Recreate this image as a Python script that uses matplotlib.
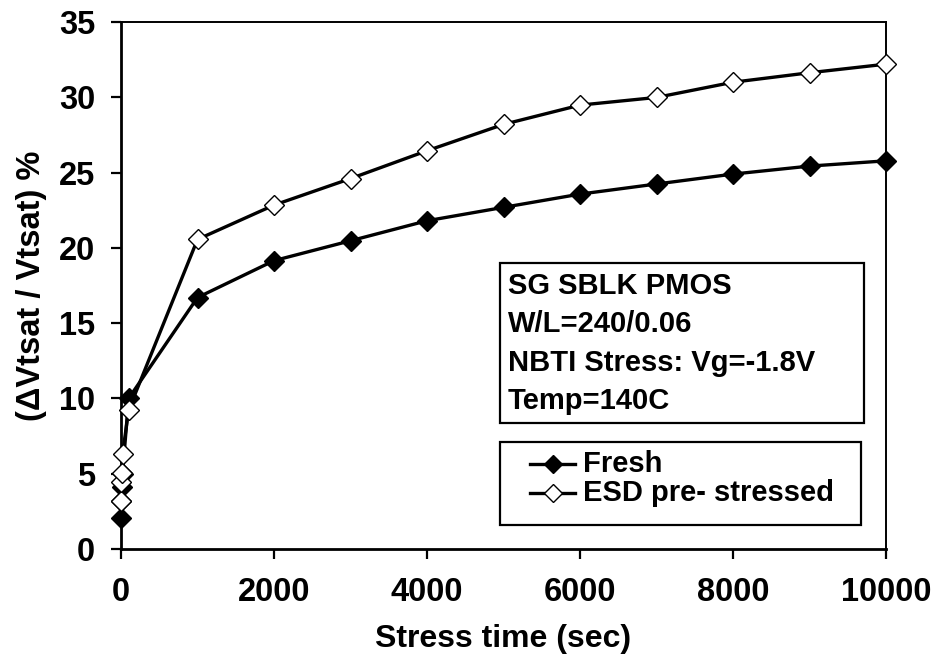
import matplotlib
matplotlib.use("Agg")
import matplotlib.pyplot as plt
from matplotlib.patches import Rectangle

plt.rcParams['font.family'] = ['Liberation Sans', 'DejaVu Sans']
plt.rcParams['font.weight'] = 'bold'

# stress time (sec)
stress_time = [1, 5, 10, 20, 100, 1000, 2000, 3000, 4000, 5000,
               6000, 7000, 8000, 9000, 10000]
fresh = [2.04, 3.2, 4.1, 5.0, 10.0, 16.7, 19.15, 20.47, 21.8, 22.69,
         23.57, 24.24, 24.9, 25.43, 25.78]
esd_pre = [3.19, 4.47, 5.07, 6.3, 9.23, 20.56, 22.84, 24.6, 26.45, 28.2,
           29.48, 29.99, 31.0, 31.63, 32.2]

x_ticks = [0, 2000, 4000, 6000, 8000, 10000]
y_ticks = [0, 5, 10, 15, 20, 25, 30, 35]

info_lines = ["SG SBLK PMOS", "W/L=240/0.06", "NBTI Stress: Vg=-1.8V", "Temp=140C"]
legend_labels = ["Fresh", "ESD pre- stressed"]

W, H = 935, 660
fig = plt.figure(figsize=(W / 100, H / 100), dpi=100)
ax_l, ax_r, ax_t, ax_b = 121, 886, 22, 549
ax = fig.add_axes([ax_l / W, 1 - ax_b / H, (ax_r - ax_l) / W, (ax_b - ax_t) / H])


def px(x, y):
    # pixel position -> axes fraction
    return (x - ax_l) / (ax_r - ax_l), (ax_b - y) / (ax_b - ax_t)


ms = 10
ax.plot(stress_time, fresh, color='black', lw=2.4, marker='D', ms=ms,
        mfc='black', mec='black', mew=1.0, zorder=3, clip_on=False)
ax.plot(stress_time, esd_pre, color='black', lw=2.4, marker='D', ms=ms,
        mfc='white', mec='black', mew=1.0, zorder=4, clip_on=False)

ax.set_xlim(0, 10000)
ax.set_ylim(0, 35)
ax.set_xticks(x_ticks)
ax.set_yticks(y_ticks)
ax.tick_params(direction='out', length=7.5, width=1.6, labelsize=23.5, pad=11)
ax.tick_params(axis='x', pad=13)
for lab in ax.get_xticklabels() + ax.get_yticklabels():
    lab.set_fontweight('bold')

for side in ['left', 'bottom']:
    ax.spines[side].set_linewidth(2.0)
for side in ['top', 'right']:
    ax.spines[side].set_linewidth(1.4)

ax.set_xlabel("Stress time (sec)", fontsize=23, fontweight='bold', labelpad=11)
ax.set_ylabel("(\u0394Vtsat / Vtsat) %", fontsize=23.5, fontweight='bold', labelpad=9)

# info box
x0, y0 = px(500, 423)
x1, y1 = px(864, 263)
ax.add_patch(Rectangle((x0, y0), x1 - x0, y1 - y0, transform=ax.transAxes,
                       fill=False, ec='black', lw=1.6, zorder=5))
for i, line in enumerate(info_lines):
    tx, ty = px(508, 286 + i * 38.3)
    ax.text(tx, ty, line, transform=ax.transAxes, fontsize=21,
            fontweight='bold', va='center', ha='left', zorder=6)

# legend box
x0, y0 = px(500, 525)
x1, y1 = px(861, 442)
ax.add_patch(Rectangle((x0, y0), x1 - x0, y1 - y0, transform=ax.transAxes,
                       fill=False, ec='black', lw=1.6, zorder=5))
legend_faces = ['black', 'white']
for i, (label, fc) in enumerate(zip(legend_labels, legend_faces)):
    yy = 464 + i * 29
    ha, ya = px(530, yy)
    hb, _ = px(575, yy)
    hm, _ = px(552.5, yy)
    ax.plot([ha, hb], [ya, ya], transform=ax.transAxes, color='black',
            lw=2.4, clip_on=False, zorder=6)
    ax.plot([hm], [ya], transform=ax.transAxes, marker='D', ms=9,
            mfc=fc, mec='black', mew=1.0, clip_on=False, zorder=7)
    tx, _ = px(583, yy)
    ax.text(tx, ya, label, transform=ax.transAxes, fontsize=21,
            fontweight='bold', va='center', ha='left', zorder=6)

fig.savefig("out.png", dpi=100)
